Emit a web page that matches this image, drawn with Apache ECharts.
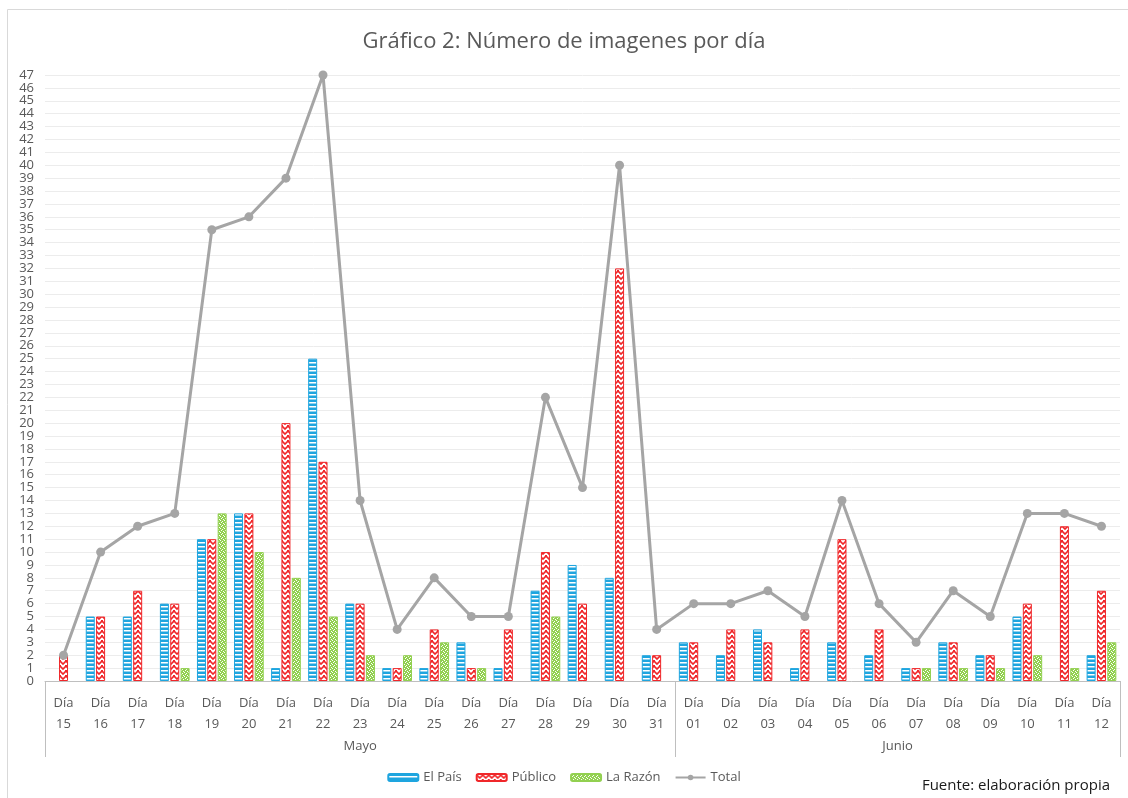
<!DOCTYPE html>
<html>
<head>
<meta charset="utf-8">
<script src="https://cdn.jsdelivr.net/npm/echarts@6/dist/echarts.min.js"></script>
<style>
  html, body { margin: 0; padding: 0; background: #fff; }
  #chart { width: 1128px; height: 798px; }
</style>
</head>
<body>
<div id="chart"></div>
<script>
// dias (primer nivel) y meses (segundo nivel)
var dias = ['15','16','17','18','19','20','21','22','23','24','25','26','27','28','29','30','31',
            '01','02','03','04','05','06','07','08','09','10','11','12'];
var meses = ['Mayo', 'Junio'];
var diasPorMes = [17, 12];

var elPais  = [0,5,5,6,11,13,1,25,6,1,1,3,1,7,9,8,2, 3,2,4,1,3,2,1,3,2,5,0,2];
var publico = [2,5,7,6,11,13,20,17,6,1,4,1,4,10,6,32,2, 3,4,3,4,11,4,1,3,2,6,12,7];
var laRazon = [0,0,0,1,13,10,8,5,2,2,3,1,0,5,0,0,0, 0,0,0,0,0,0,1,1,1,2,1,3];
var total   = [2,10,12,13,35,36,39,47,14,4,8,5,5,22,15,40,4, 6,6,7,5,14,6,3,7,5,13,13,12];

var yMax = 47;

// tramas de relleno tipo Excel
function pattern(w, h, draw) {
  var c = document.createElement('canvas');
  c.width = w; c.height = h;
  draw(c.getContext('2d'));
  return { image: c, repeat: 'repeat' };
}
var azul = '#1ea5df', rojo = '#f0272a', verde = '#92d050';

var rayasAzul = pattern(4, 4, function (ctx) {
  ctx.fillStyle = azul; ctx.fillRect(0, 0, 4, 4);
  ctx.fillStyle = '#fff'; ctx.fillRect(0, 2, 4, 1.5);
});
var zigzagRojo = pattern(6, 5, function (ctx) {
  ctx.fillStyle = '#fff'; ctx.fillRect(0, 0, 6, 5);
  ctx.strokeStyle = rojo; ctx.lineWidth = 1.7;
  ctx.beginPath();
  ctx.moveTo(0, 1); ctx.lineTo(3, 4); ctx.lineTo(6, 1);
  ctx.stroke();
  ctx.fillStyle = rojo; ctx.fillRect(0, 0, 1, 1); ctx.fillRect(5, 0, 1, 1);
});
var puntosVerde = pattern(4, 4, function (ctx) {
  ctx.fillStyle = verde; ctx.fillRect(0, 0, 4, 4);
  ctx.fillStyle = '#fff';
  ctx.fillRect(0, 0, 1, 1); ctx.fillRect(2, 1, 1, 1);
  ctx.fillRect(1, 2, 1, 1); ctx.fillRect(3, 3, 1, 1);
});

var fuente = 'Open Sans, Noto Sans, sans-serif';
var gris = '#595959';

// límites de meses sobre el eje de segundo nivel
var limites = [0], centros = [], acc = 0;
diasPorMes.forEach(function (n) {
  centros.push(acc + n / 2);
  acc += n;
  limites.push(acc);
});

var chart = echarts.init(document.getElementById('chart'));

function barra(nombre, datos, relleno, borde) {
  return {
    name: nombre,
    type: 'bar',
    // los ceros no se dibujan en el original
    data: datos.map(function (v) { return v === 0 ? '-' : v; }),
    barWidth: 9,
    barGap: '15%',
    itemStyle: { color: relleno, borderColor: borde, borderWidth: 1 }
  };
}

chart.setOption({
  animation: false,
  textStyle: { fontFamily: fuente },
  title: {
    text: 'Gráfico 2: Número de imagenes por día',
    left: 'center',
    top: 26,
    textStyle: { fontSize: 22, fontWeight: 'normal', color: gris, fontFamily: fuente }
  },
  legend: {
    bottom: 9,
    left: 'center',
    itemWidth: 30,
    itemHeight: 7,
    itemGap: 14,
    textStyle: { fontSize: 13, color: gris },
    data: ['El País', 'Público', 'La Razón', 'Total']
  },
  grid: { left: 45, right: 8, top: 75, bottom: 117, containLabel: false },
  xAxis: [
    {
      type: 'category',
      data: dias.map(function (d) { return 'Día\n' + d; }),
      axisLine: { lineStyle: { color: '#bfbfbf', width: 1 } },
      axisTick: { show: false },
      axisLabel: { color: gris, fontSize: 13, lineHeight: 21, margin: 12, interval: 0 }
    },
    {
      type: 'value',
      min: 0,
      max: dias.length,
      position: 'bottom',
      axisLine: { show: false },
      splitLine: { show: false },
      axisTick: {
        show: true,
        customValues: limites,
        length: 76,
        lineStyle: { color: '#bfbfbf', width: 1 }
      },
      axisLabel: {
        customValues: centros,
        margin: 59,
        color: gris,
        fontSize: 13,
        formatter: function (v) {
          var i = centros.indexOf(v);
          return i >= 0 ? meses[i] : '';
        }
      }
    }
  ],
  yAxis: {
    type: 'value',
    min: 0,
    max: yMax,
    interval: 1,
    axisLine: { show: false },
    axisTick: { show: false },
    axisLabel: { color: gris, fontSize: 13, margin: 11 },
    splitLine: { lineStyle: { color: '#ececec', width: 1 } }
  },
  graphic: [
    {
      type: 'rect',
      shape: { x: 7.5, y: 9.5, width: 1200, height: 900 },
      style: { fill: 'none', stroke: '#d9d9d9', lineWidth: 1 },
      silent: true
    },
    {
      type: 'text',
      right: 18,
      bottom: 5,
      style: { text: 'Fuente: elaboración propia', fontSize: 15, fill: '#1a1a1a', fontFamily: fuente }
    }
  ],
  series: [
    barra('El País', elPais, rayasAzul, azul),
    barra('Público', publico, zigzagRojo, rojo),
    barra('La Razón', laRazon, puntosVerde, verde),
    {
      name: 'Total',
      type: 'line',
      data: total,
      symbol: 'circle',
      symbolSize: 9,
      z: 5,
      lineStyle: { color: '#a5a5a5', width: 3 },
      itemStyle: { color: '#a5a5a5' }
    }
  ]
});
</script>
</body>
</html>
